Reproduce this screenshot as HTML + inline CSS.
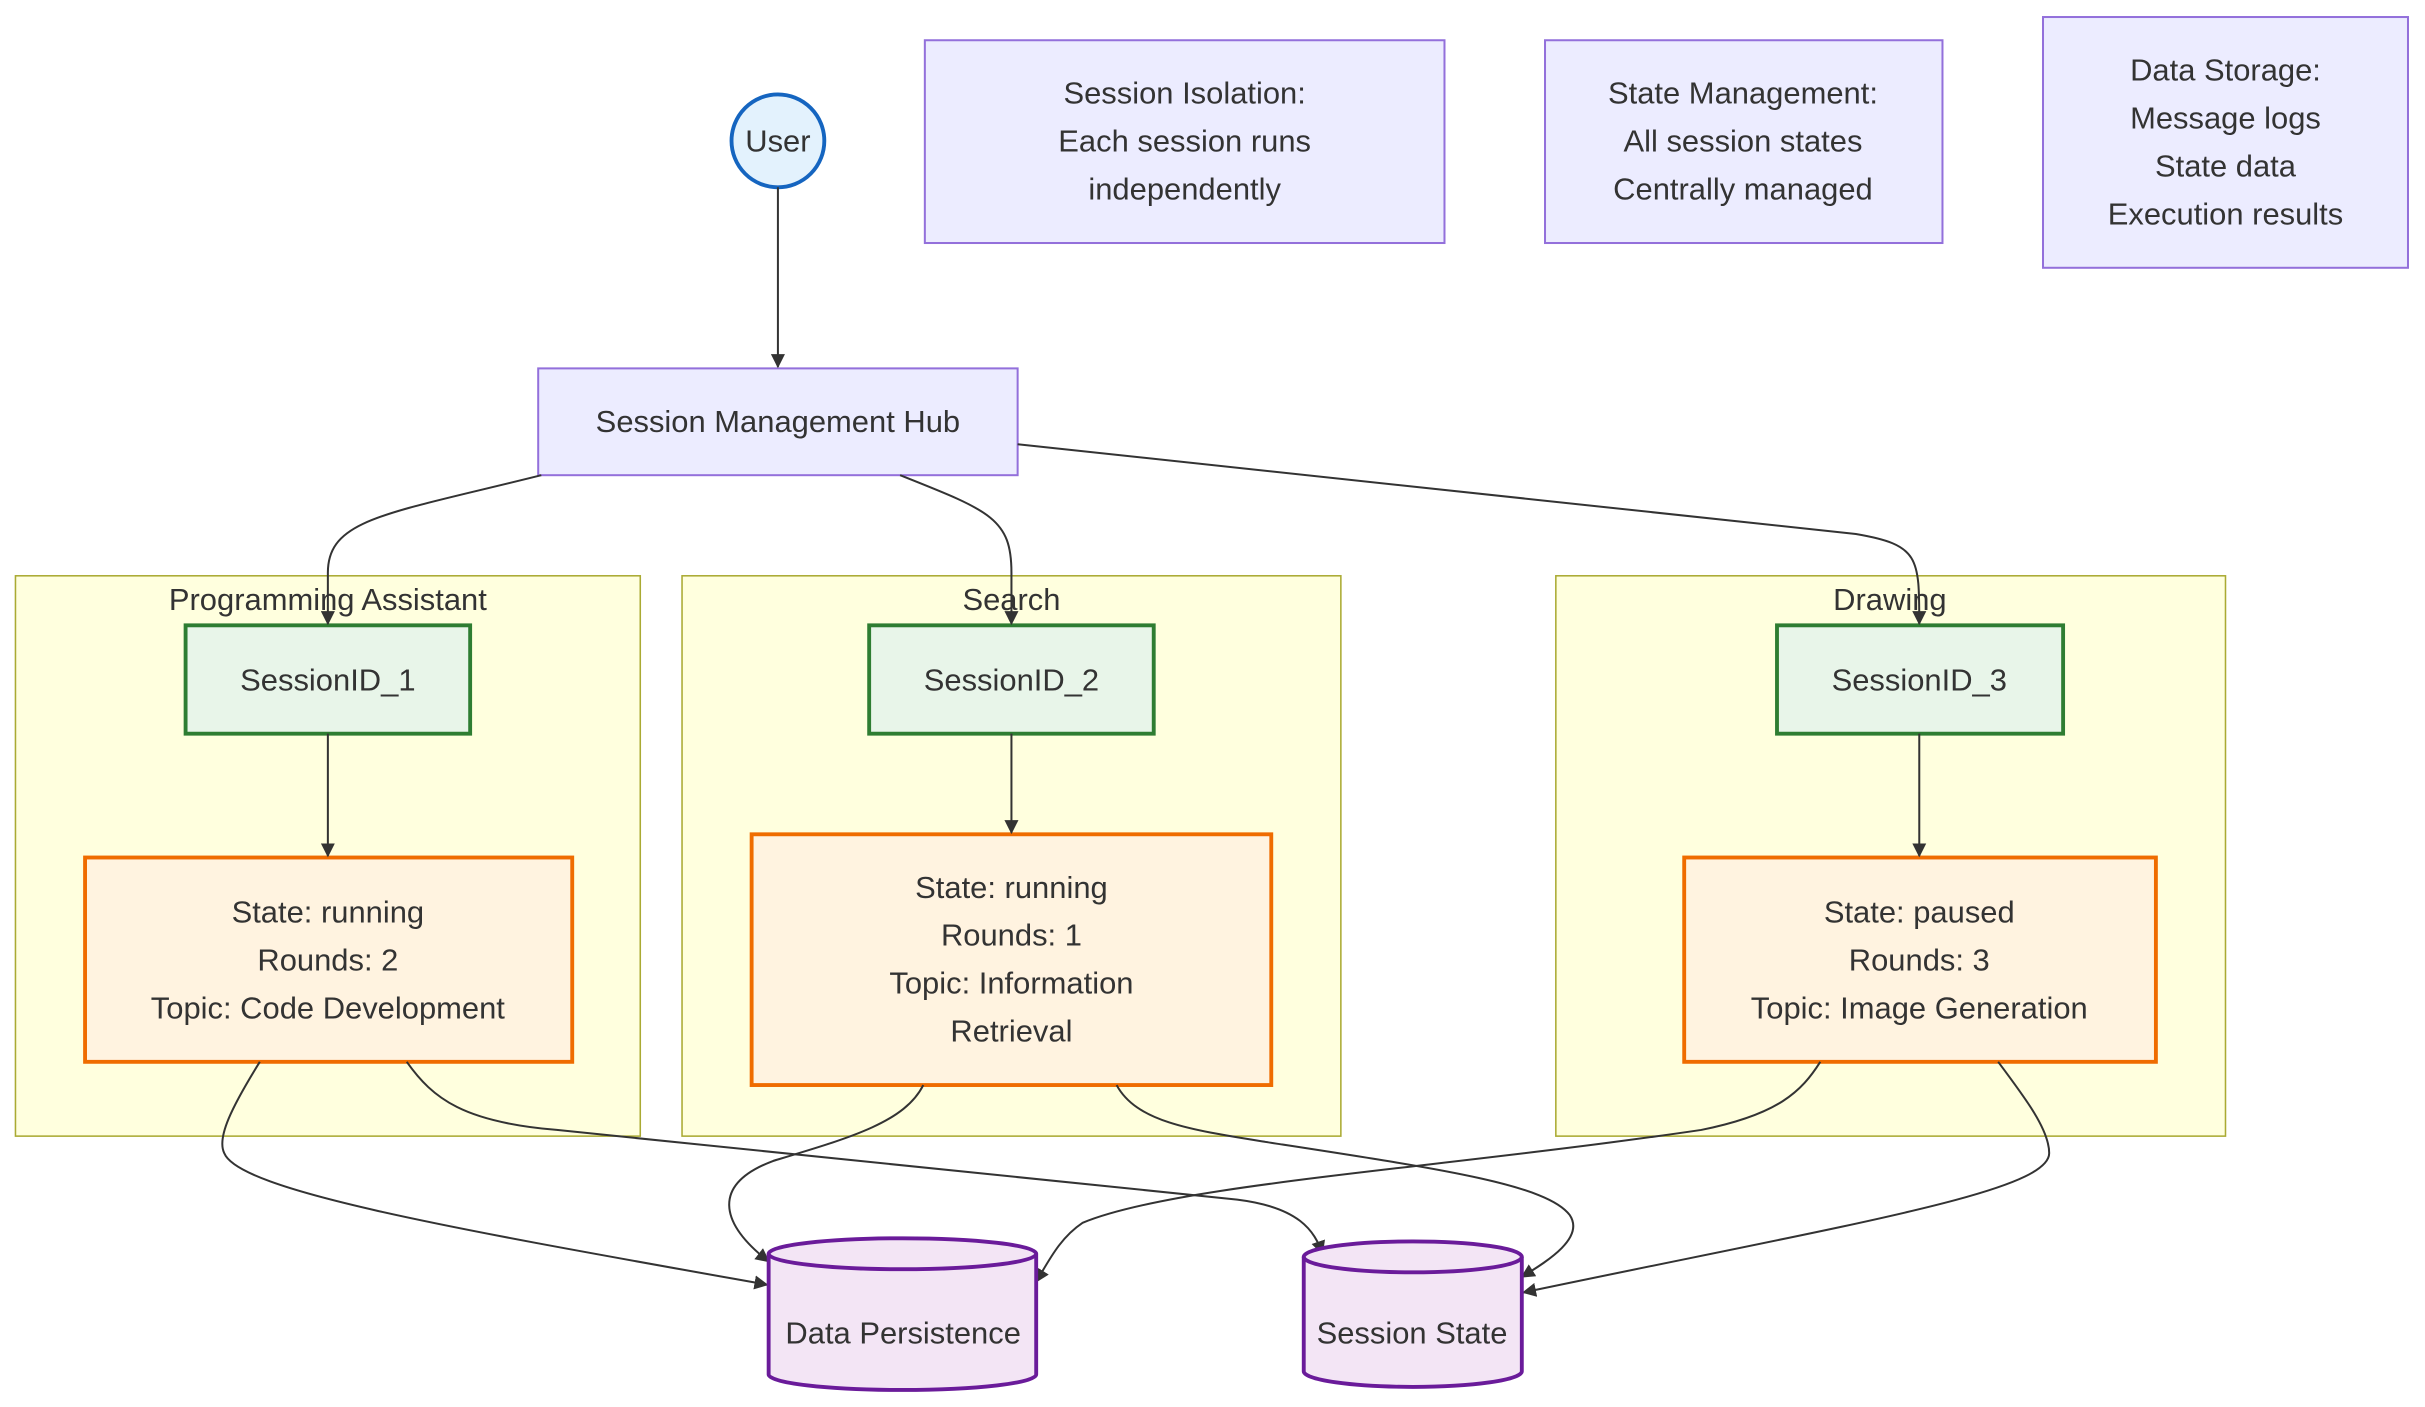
<!DOCTYPE html>
<html><head><meta charset="utf-8"><style>
html,body{margin:0;padding:0;background:#fff;width:2425px;height:1407px;overflow:hidden}
svg{display:block}
text{font-family:"Liberation Sans","DejaVu Sans",sans-serif;font-size:20px;fill:#333;text-anchor:middle}
</style></head><body>
<svg width="2425" height="1407" viewBox="0 0 1568 909" preserveAspectRatio="none">
<defs><marker id="a" viewBox="0 0 10 10" refX="9" refY="5" markerWidth="7" markerHeight="7" orient="auto"><path d="M0,0L10,5L0,10z" fill="#333"/></marker></defs>
<g fill="#ffffde" stroke="#aaaa33" stroke-width="1">
<rect x="10" y="372" width="404" height="362"/><rect x="441" y="372" width="426" height="362"/><rect x="1006" y="372" width="433" height="362"/></g>
<text x="212" y="394">Programming Assistant</text><text x="654" y="394">Search</text><text x="1222" y="394">Drawing</text>
<g fill="#ececff" stroke="#9370db" stroke-width="1.3">
<rect x="598" y="26" width="336" height="131"/><rect x="999" y="26" width="257" height="131"/><rect x="1321" y="11" width="236" height="162"/><rect x="348" y="238" width="310" height="69"/></g>
<text x="766" y="67">Session Isolation:</text><text x="766" y="98">Each session runs</text><text x="766" y="129">independently</text>
<text x="1127" y="67">State Management:</text><text x="1127" y="98">All session states</text><text x="1127" y="129">Centrally managed</text>
<text x="1439" y="52">Data Storage:</text><text x="1439" y="83">Message logs</text><text x="1439" y="114">State data</text><text x="1439" y="145">Execution results</text>
<text x="503" y="279">Session Management Hub</text>
<circle cx="503" cy="91" r="30" fill="#e3f2fd" stroke="#1565c0" stroke-width="2.5"/><text x="503" y="98">User</text>
<g fill="#e8f5e9" stroke="#2e7d32" stroke-width="2.5">
<rect x="120" y="404" width="184" height="70"/><rect x="562" y="404" width="184" height="70"/><rect x="1149" y="404" width="185" height="70"/></g>
<text x="212" y="446">SessionID_1</text><text x="654" y="446">SessionID_2</text><text x="1241" y="446">SessionID_3</text>
<g fill="#fff3e0" stroke="#ef6c00" stroke-width="2.5">
<rect x="55" y="554" width="315" height="132"/><rect x="486" y="539" width="336" height="162"/><rect x="1089" y="554" width="305" height="132"/></g>
<text x="212" y="596">State: running</text><text x="212" y="627">Rounds: 2</text><text x="212" y="658">Topic: Code Development</text>
<text x="654" y="580">State: running</text><text x="654" y="611">Rounds: 1</text><text x="654" y="642">Topic: Information</text><text x="654" y="673">Retrieval</text>
<text x="1241" y="596">State: paused</text><text x="1241" y="627">Rounds: 3</text><text x="1241" y="658">Topic: Image Generation</text>
<g fill="none" stroke="#333" stroke-width="1.3" marker-end="url(#a)">
<path d="M503,121V237"/>
<path d="M350,307C250,332 212,335 212,370V403"/>
<path d="M582,307C640,330 654,335 654,370V403"/>
<path d="M658,287L1200,345C1241,352 1241,360 1241,403"/>
<path d="M212,474V553"/><path d="M654,474V538"/><path d="M1241,474V553"/>
<path d="M168,686C150,715 140,735 145,745C155,770 300,795 496,830"/>
<path d="M263,686C280,710 300,725 360,730L800,775C840,780 850,795 855,810"/>
<path d="M597,701C585,725 550,735 500,750C460,765 465,790 497,815"/>
<path d="M722,701C735,725 770,730 820,738C930,755 1000,765 1015,785C1025,800 1000,815 984,825"/>
<path d="M1177,686C1165,705 1150,720 1100,730C930,755 760,765 700,790C685,800 678,815 670,828"/>
<path d="M1292,686C1310,710 1325,730 1325,745C1325,770 1200,790 985,835"/>
</g>
<g fill="#f3e5f5" stroke="#6a1b9a" stroke-width="2.5">
<path d="M497,810V888A86.5,10 0 0 0 670,888V810A86.5,10 0 0 0 497,810z"/><path d="M497,810A86.5,10 0 0 0 670,810" fill="none"/>
<path d="M843,812V886A70.5,10 0 0 0 984,886V812A70.5,10 0 0 0 843,812z"/><path d="M843,812A70.5,10 0 0 0 984,812" fill="none"/></g>
<text x="584" y="868">Data Persistence</text><text x="913" y="868">Session State</text>
</svg>
</body></html>
